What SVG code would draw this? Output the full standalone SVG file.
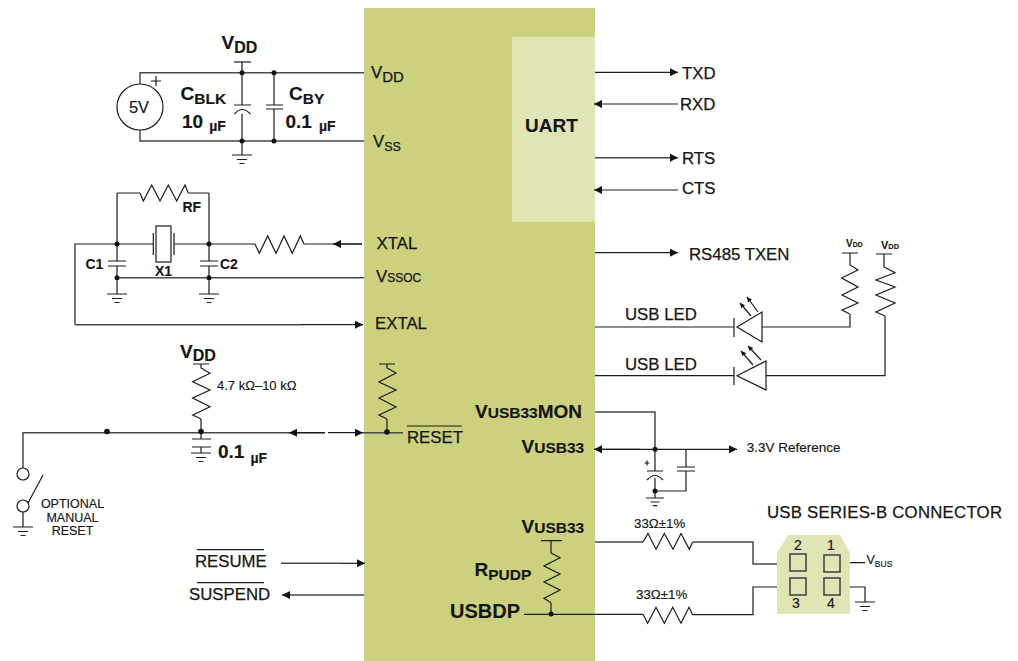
<svg xmlns="http://www.w3.org/2000/svg" width="1018" height="661" viewBox="0 0 1018 661">
<style>
text{font-family:"Liberation Sans",Arial,sans-serif;fill:#151515;stroke:#151515;stroke-width:.15}
.b{font-weight:bold;stroke-width:.1}
.l{font-size:16.800px;stroke-width:.25}
.m{font-size:14px}
.big{font-size:19px;font-weight:bold}
.w,.s{fill:none;stroke:#1c1c1c;stroke-width:1.200}
.g{fill:none;stroke:#4a4a4a;stroke-width:1.500}
.d{fill:#111}
</style>
<defs>
<marker id="ah" viewBox="0 0 8 8" refX="8" refY="4" markerWidth="8" markerHeight="8" markerUnits="userSpaceOnUse" orient="auto"><path d="M0,0L8,4L0,8z" fill="#111"/></marker>
<marker id="as" viewBox="0 0 5 5" refX="5" refY="2.500" markerWidth="5" markerHeight="5" markerUnits="userSpaceOnUse" orient="auto"><path d="M0,0L5,2.500L0,5z" fill="#111"/></marker>
<g id="gnd"><path class="s" d="M-10,0H10M-5,4.500H5M-2.500,8.500H2.500"/></g>
</defs>
<g id="chip"><rect x="364" y="8" width="231" height="653" fill="#cbd17c"/></g>
<g id="uart"><rect x="512" y="37" width="83" height="185" fill="#e1e5b6"/><text x="525" y="131.500" font-size="19" class="b">UART</text></g>
<g id="connectors">
<path class="g" d="M140,84V72.700H364M140,130V141H364"/>
<path class="w" d="M242,62V105M242,114V155M274,72.700V105M274,109V141"/>
<path class="w" d="M117,193V244M117,244V261M117,266V294M209,193V261M209,266V294"/>
<path class="w" d="M75,324.700V244H153M174,244H255M304,244H362M117,193H140M188.300,193H209"/>
<path class="g" d="M117,277.700H364"/>
<path class="g" d="M75,324.700H300"/>
<path class="w" d="M300,324.700H363" marker-end="url(#ah)"/>
<path class="w" d="M362,244H333" marker-end="url(#ah)"/>
<path class="w" d="M595,72.300H678" marker-end="url(#ah)"/>
<path class="w" d="M678,104H594" marker-end="url(#ah)"/>
<path class="g" d="M595,157.700H678" marker-end="url(#ah)"/>
<path class="w" d="M678,190H594" marker-end="url(#ah)"/>
<path class="w" d="M595,252.700H678" marker-end="url(#ah)"/>
<path class="w" d="M595,327H734M762,327H850V314"/>
<path class="w" d="M595,375.700H734M766,375.700H885V316"/>
<path class="g" d="M23,468V432.700H325"/>
<path class="w" d="M325,432.700H289" marker-end="url(#ah)"/>
<path class="w" d="M328,432.700H363" marker-end="url(#ah)"/>
<path class="g" d="M363,432.700H403"/>
<path class="w" d="M201,419V439M201,447V453M23,512V527M387,419V432"/>
<path class="g" d="M595,412H655V449"/>
<path class="w" d="M595,449.300H737" marker-end="url(#ah)"/>
<path class="w" d="M640,449.300H594" marker-end="url(#ah)"/>
<path class="w" d="M655,449V471M655,478V498"/>
<path class="w" d="M686,449V467M686,471V491H655"/>
<path class="g" d="M595,542H643M692.700,542H753V564H790"/>
<path class="w" d="M524,614.300H643M692.700,614.700H753V587H790"/>
<path class="w" d="M840,562.700H865M840,587H865V602"/>
<path class="w" d="M551,541V553M551,602.700V614"/>
<path class="g" d="M281,563.300H340"/>
<path class="w" d="M340,563.300H365" marker-end="url(#ah)"/>
<path class="g" d="M364,595H310"/>
<path class="w" d="M310,595H282" marker-end="url(#ah)"/>
</g>
<g id="dots">
<circle class="d" cx="242" cy="72.700" r="2.500"/><circle class="d" cx="274" cy="72.700" r="2.500"/><circle class="d" cx="242" cy="141" r="2.500"/><circle class="d" cx="274" cy="141" r="2.500"/>
<circle class="d" cx="117" cy="244" r="2.500"/><circle class="d" cx="209" cy="244" r="2.500"/><circle class="d" cx="117" cy="277.700" r="2.500"/><circle class="d" cx="209" cy="277.700" r="2.500"/>
<circle class="d" cx="107" cy="431.500" r="2.800"/><circle class="d" cx="201" cy="431.500" r="2.800"/><circle class="d" cx="387" cy="432" r="2.800"/>
<circle class="d" cx="655" cy="449.300" r="2.500"/><circle class="d" cx="655" cy="491" r="2.500"/><circle class="d" cx="551" cy="614" r="2.500"/>
</g>
<g id="source-5v"><circle cx="140" cy="107" r="23" fill="#fff" stroke="#1c1c1c" stroke-width="1.200"/><text x="139" y="113" font-size="16.500" text-anchor="middle">5V</text><path class="s" d="M151,81H161M156,76V86"/></g>
<g id="vdd-top"><path class="s" d="M234,62H251"/><text x="221.500" y="49" class="big">V<tspan font-size="16" dy="4">DD</tspan></text></g>
<g id="c-blk"><path class="s" d="M234,105H251M234.500,114Q242,105 250.500,114"/><text x="180.500" y="100" class="big">C<tspan font-size="15.500" dy="4">BLK</tspan></text><text x="182" y="127.500" class="big">10<tspan font-size="14" dy="3.500" dx="6">µF</tspan></text></g>
<g id="c-by"><path class="s" d="M266,105H283M266,109H283"/><text x="289" y="100" class="big">C<tspan font-size="15.500" dy="4">BY</tspan></text><text x="285.500" y="127.500" class="big">0.1<tspan font-size="14" dy="3.500" dx="7">µF</tspan></text></g>
<use id="gnd-1" href="#gnd" x="242" y="155"/>
<g id="rf"><path class="s" d="M140,193L143.300,201L151.700,185L160,201L168.300,185L176.700,201L185,185L188.300,193"/><text x="182.500" y="212" class="m b">RF</text></g>
<g id="x1"><rect x="156" y="226" width="15" height="36" fill="none" stroke="#1c1c1c" stroke-width="1.200"/><path class="s" d="M153.300,233V255M174,233V255"/><text x="155" y="276" class="m b">X1</text></g>
<g id="r-xtal"><path class="s" d="M255,244L259.300,253.300L267.700,236L276,253.300L284,236L292.300,253.300L300.300,236L304,244"/></g>
<g id="c1"><path class="s" d="M108,261H126M108,266H126"/><text x="85.500" y="269" class="m b">C1</text></g>
<g id="c2"><path class="s" d="M200,261H218M200,266H218"/><text x="220" y="269" class="m b">C2</text></g>
<use id="gnd-2" href="#gnd" x="117" y="294"/>
<use id="gnd-3" href="#gnd" x="209" y="294"/>
<g id="r-pull"><path class="s" d="M193,364H209M201,364V368L210,373.300L192.700,381.700L210,390L192.700,398L210,406.700L192.700,415L201,419"/><text x="180" y="358" class="big">V<tspan font-size="16" dy="3">DD</tspan></text><text x="217" y="390" font-size="13">4.7 kΩ–10 kΩ</text></g>
<g id="c-reset"><path class="s" d="M192,439H211M192,447H211"/><use href="#gnd" x="201" y="453"/><text x="218" y="457.500" class="big">0.1<tspan font-size="14" dy="5.500" dx="6">µF</tspan></text></g>
<g id="r-reset"><path class="s" d="M379,364H395M387,364V368L396,373L379,382L396,390L379,398L396,407L379,415L387,419"/></g>
<g id="switch"><circle cx="23" cy="474" r="6" fill="#fff" stroke="#1c1c1c" stroke-width="1.200"/><circle cx="23" cy="506" r="6" fill="#fff" stroke="#1c1c1c" stroke-width="1.200"/><path class="s" d="M28,503L43,475"/><use href="#gnd" x="23" y="527"/>
<text font-size="12.500" text-anchor="middle"><tspan x="72.500" y="507.500">OPTIONAL</tspan><tspan x="72.500" y="521.500">MANUAL</tspan><tspan x="72.500" y="535">RESET</tspan></text></g>
<g id="labels-left">
<text x="371" y="78" class="l">V<tspan font-size="15" dy="4.300">DD</tspan></text>
<text x="373" y="146.700" class="l">V<tspan font-size="12.500" dy="4">SS</tspan></text>
<text x="376.500" y="248.500" class="l">XTAL</text>
<text x="376" y="282" class="l">V<tspan font-size="12">SSOC</tspan></text>
<text x="375" y="328.500" class="l">EXTAL</text>
<text x="407" y="442.700" class="l">RESET</text><path class="s" d="M407,426H462"/>
<text x="195" y="567" class="l">RESUME</text><path class="s" d="M197,549.700H264"/>
<text x="189" y="599.700" class="l">SUSPEND</text><path class="s" d="M197,582.700H264"/>
</g>
<g id="labels-usb">
<text x="475" y="417.700" class="big">V<tspan font-size="15.500">USB33</tspan>MON</text>
<text x="521.500" y="453" class="big">V<tspan font-size="15.500">USB33</tspan></text>
<text x="521.500" y="532.700" class="big">V<tspan font-size="15.500">USB33</tspan></text>
<text x="474.500" y="576" class="big">R<tspan font-size="15.500" dy="4">PUDP</tspan></text>
<text x="450" y="618" font-size="20" class="b">USBDP</text>
<text x="746.700" y="451.700" font-size="13.500">3.3V Reference</text>
</g>
<g id="labels-right">
<text x="682" y="79" class="l">TXD</text><text x="680" y="110" class="l">RXD</text><text x="682" y="164" class="l">RTS</text><text x="682" y="194" class="l">CTS</text>
<text x="689" y="260" class="l">RS485 TXEN</text>
<text x="625" y="320" class="l">USB LED</text><text x="625" y="370" class="l">USB LED</text>
</g>
<g id="led-1"><path class="s" d="M734,318V337M737,327L762,312V342Z"/><path class="s" d="M751,316L740,303" marker-end="url(#as)"/><path class="s" d="M758,312L747,297" marker-end="url(#as)"/></g>
<g id="led-2"><path class="s" d="M734,367V385M737,375.700L766,361V390Z"/><path class="s" d="M753,365L741,351" marker-end="url(#as)"/><path class="s" d="M761,360L748,346" marker-end="url(#as)"/></g>
<g id="r-led-1"><path class="s" d="M842,253H858M850,253V265L858,270L841.700,278L858,287L842,295L858,303L842,310L849.700,314"/><text x="846" y="247" font-size="10" class="b">V<tspan font-size="7">DD</tspan></text></g>
<g id="r-led-2"><path class="s" d="M876,254H892M884,254V267L895,272.700L876,280L895,287L876,295L895,303L876,312L885,316"/><text x="881" y="249" font-size="11" class="b">V<tspan font-size="7.500">DD</tspan></text></g>
<g id="c-usb"><path class="s" d="M647,471H663M647,480Q655,471 663,480M677,467H695M677,471H695"/><path class="s" d="M644.500,463H649.500M647,460.500V465.500"/><use href="#gnd" x="655" y="498" transform="translate(65.500 49.800) scale(.9)"/></g>
<g id="r-pupd"><path class="s" d="M541,540.700H562M551,553L560,557.700L544,566L560,574L544,582L560,590L544,598.300L551,602.700"/></g>
<g id="r-33-1"><path class="s" d="M643,542L648,533.500L656,549.300L664.300,533.500L673,549.300L681,533.500L689.300,549.300L692.700,542"/><text x="634" y="528" font-size="13.300">33Ω±1%</text></g>
<g id="r-33-2"><path class="s" d="M643,614.300L647.700,623.300L656,607.300L664.300,623.300L672.700,607.300L681,623.300L689,607.300L692.700,614.700"/><text x="636" y="599" font-size="13.300">33Ω±1%</text></g>
<g id="usb-connector"><path d="M788,535H840L850,553V614H777V553Z" fill="#e1e5b6"/>
<rect x="790" y="554" width="16" height="17" fill="none" stroke="#333" stroke-width="1.400"/><rect x="824" y="555" width="16" height="17" fill="none" stroke="#333" stroke-width="1.400"/><rect x="790" y="578" width="16" height="17" fill="none" stroke="#333" stroke-width="1.400"/><rect x="824" y="578" width="16" height="17" fill="none" stroke="#333" stroke-width="1.400"/>
<text class="m" text-anchor="middle" x="798" y="550">2</text><text class="m" text-anchor="middle" x="831" y="550">1</text><text class="m" text-anchor="middle" x="796" y="608">3</text><text class="m" text-anchor="middle" x="831" y="608">4</text>
<text x="866.500" y="563.700" font-size="12.500">V<tspan font-size="8.500" dy="3">BUS</tspan></text>
<use href="#gnd" x="865" y="602"/>
<text x="767" y="518" class="l" font-size="17" textLength="235">USB SERIES-B CONNECTOR</text></g>
</svg>
